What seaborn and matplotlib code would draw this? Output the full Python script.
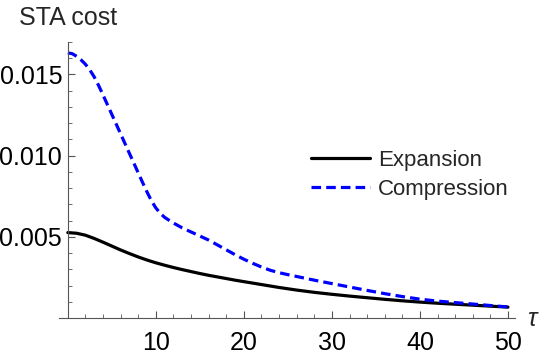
import matplotlib
matplotlib.use("Agg")
import matplotlib.pyplot as plt
import matplotlib.ticker as mticker
import seaborn as sns
import pandas as pd

# ---- data ----
tau_comp = [0, 0.5, 1, 1.5, 2, 2.5, 3, 3.5, 4, 4.5, 5, 5.5, 6, 6.5, 7, 7.5, 8, 8.5, 9, 9.5,
            10, 10.5, 11, 11.5, 12, 13, 14, 15, 16, 17, 18, 19, 20, 21, 22, 23, 24, 25, 26.5,
            28, 30, 32, 34, 36, 38, 40, 42, 44, 46, 48, 50]
compression = [0.01633, 0.01628, 0.01612, 0.01590, 0.01563, 0.01528, 0.01485, 0.01432, 0.01374,
               0.01314, 0.01254, 0.01194, 0.01134, 0.01074, 0.01014, 0.00954, 0.00894, 0.00834,
               0.00776, 0.00722, 0.00678, 0.00645, 0.00620, 0.00602, 0.00585, 0.00555, 0.00530,
               0.00505, 0.00480, 0.00450, 0.00420, 0.00390, 0.00362, 0.00337, 0.00314, 0.00294,
               0.00279, 0.00267, 0.00250, 0.00233, 0.00212, 0.00191, 0.00170, 0.00150, 0.00132,
               0.00116, 0.00104, 0.00095, 0.00086, 0.00077, 0.00068]
tau_exp = [0, 1, 2, 3, 4, 5, 6, 7, 8, 9, 10, 11, 12, 13, 14, 15, 16, 17, 18, 19, 20, 22, 24,
           26, 28, 30, 32, 34, 36, 38, 40, 42, 44, 46, 48, 50]
expansion = [0.00526, 0.00522, 0.00510, 0.00490, 0.00467, 0.00443, 0.00419, 0.00397, 0.00376,
             0.00357, 0.00340, 0.00325, 0.00311, 0.00298, 0.00286, 0.00274, 0.00263, 0.00253,
             0.00243, 0.00233, 0.00224, 0.00206, 0.00188, 0.00172, 0.00158, 0.00146, 0.00135,
             0.00125, 0.00115, 0.00106, 0.00098, 0.00091, 0.00085, 0.00079, 0.00073, 0.00067]
x_major = [10, 20, 30, 40, 50]
y_major = [0.005, 0.010, 0.015]
labels = ["Expansion", "Compression"]
y_title = "STA cost"
x_title = "τ"

df_exp = pd.DataFrame({"tau": tau_exp, "cost": expansion})
df_comp = pd.DataFrame({"tau": tau_comp, "cost": compression})

sns.set_style("ticks")
plt.rcParams["font.family"] = ["Liberation Sans", "DejaVu Sans"]

fig = plt.figure(figsize=(5.42, 3.55), dpi=100)
ax = fig.add_axes([59 / 542, 37 / 355, 456 / 542, 276 / 355])

sns.lineplot(data=df_exp, x="tau", y="cost", ax=ax, color="black", lw=2.3, label=labels[0])
sns.lineplot(data=df_comp, x="tau", y="cost", ax=ax, color="#0000ff", lw=2.3, label=labels[1])
ax.lines[1].set_dashes((3.0, 1.6))

ax.set_xlim(-1, 50.8)
ax.set_ylim(0, 0.0170)

axis_col = "#555555"
for s in ["top", "right"]:
    ax.spines[s].set_visible(False)
ax.spines["left"].set_position(("data", 0))
ax.spines["left"].set_color(axis_col)
ax.spines["bottom"].set_color(axis_col)
ax.spines["left"].set_linewidth(0.8)
ax.spines["bottom"].set_linewidth(0.8)

ax.xaxis.set_major_locator(mticker.FixedLocator(x_major))
ax.xaxis.set_minor_locator(mticker.FixedLocator([v for v in range(2, 51, 2) if v % 10 != 0]))
ax.yaxis.set_major_locator(mticker.FixedLocator(y_major))
ax.yaxis.set_minor_locator(mticker.FixedLocator([i / 1000 for i in range(1, 18) if i % 5 != 0]))
ax.yaxis.set_major_formatter(mticker.FormatStrFormatter("%.3f"))

ax.tick_params(axis="both", which="major", direction="in", length=5, width=0.8,
               color=axis_col, labelsize=18, labelcolor="black")
ax.tick_params(axis="both", which="minor", direction="in", length=3, width=0.6, color=axis_col)
ax.tick_params(axis="x", which="major", pad=9)
ax.tick_params(axis="y", which="major", pad=4)

ax.set_xlabel("")
ax.set_ylabel("")

fig.text(68 / 542, 1 - 18 / 355, y_title, fontsize=18, ha="center", va="center")
fig.text(532 / 542, 1 - 319 / 355, x_title, fontsize=18, style="italic", ha="center", va="center")

ax.legend(loc="upper left", bbox_to_anchor=(311 / 542, 1 - 150 / 355), bbox_transform=fig.transFigure,
          frameon=False, fontsize=16, handlelength=2.65, handletextpad=0.35, borderpad=0,
          borderaxespad=0, labelspacing=0.35)

fig.savefig("out.png", dpi=100)
